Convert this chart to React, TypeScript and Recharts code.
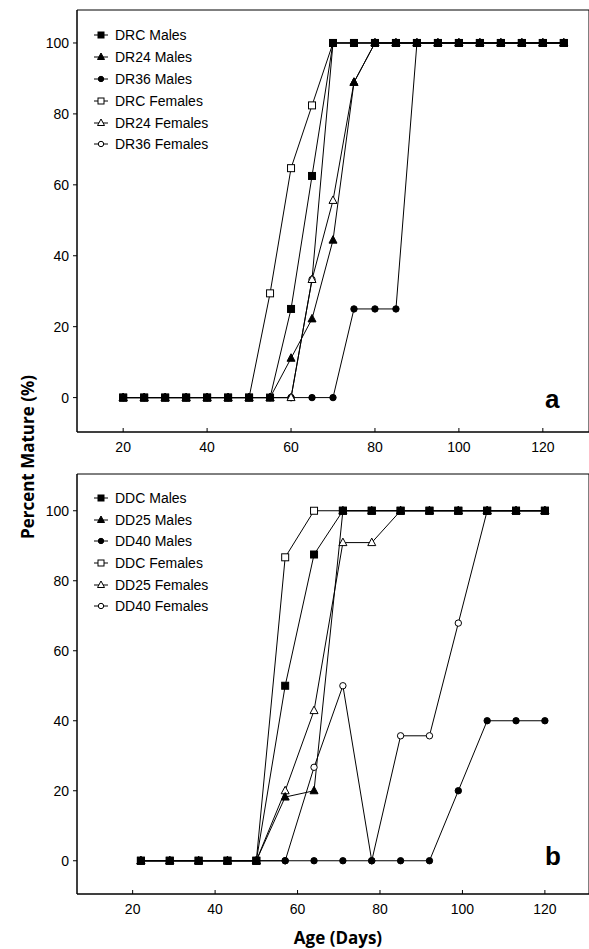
import React from 'react';
import { LineChart, Line, XAxis, YAxis, ReferenceArea, Legend } from 'recharts';

// panel a: days 20..125, step 5
const daysA = [20, 25, 30, 35, 40, 45, 50, 55, 60, 65, 70, 75, 80, 85, 90, 95, 100, 105, 110, 115, 120, 125];
const drcMales = [0, 0, 0, 0, 0, 0, 0, 0, 25, 62.5, 100, 100, 100, 100, 100, 100, 100, 100, 100, 100, 100, 100];
const dr24Males = [0, 0, 0, 0, 0, 0, 0, 0, 11.1, 22.2, 44.4, 88.9, 100, 100, 100, 100, 100, 100, 100, 100, 100, 100];
const dr36Males = [0, 0, 0, 0, 0, 0, 0, 0, 0, 0, 0, 25, 25, 25, 100, 100, 100, 100, 100, 100, 100, 100];
const drcFemales = [0, 0, 0, 0, 0, 0, 0, 29.4, 64.7, 82.4, 100, 100, 100, 100, 100, 100, 100, 100, 100, 100, 100, 100];
const dr24Females = [0, 0, 0, 0, 0, 0, 0, 0, 0, 33.3, 55.6, 88.9, 100, 100, 100, 100, 100, 100, 100, 100, 100, 100];
const dr36Females = [0, 0, 0, 0, 0, 0, 0, 0, 0, 33.3, 100, 100, 100, 100, 100, 100, 100, 100, 100, 100, 100, 100];

// panel b: days 22..120, step 7
const daysB = [22, 29, 36, 43, 50, 57, 64, 71, 78, 85, 92, 99, 106, 113, 120];
const ddcMales = [0, 0, 0, 0, 0, 50, 87.5, 100, 100, 100, 100, 100, 100, 100, 100];
const dd25Males = [0, 0, 0, 0, 0, 18.2, 20, 100, 100, 100, 100, 100, 100, 100, 100];
const dd40Males = [0, 0, 0, 0, 0, 0, 0, 0, 0, 0, 0, 20, 40, 40, 40];
const ddcFemales = [0, 0, 0, 0, 0, 86.7, 100, 100, 100, 100, 100, 100, 100, 100, 100];
const dd25Females = [0, 0, 0, 0, 0, 20, 42.9, 90.9, 90.9, 100, 100, 100, 100, 100, 100];
const dd40Females = [0, 0, 0, 0, 0, 0, 26.7, 50, 0, 35.7, 35.7, 67.9, 100, 100, 100];

const xTicks = [20, 40, 60, 80, 100, 120];
const yTicks = [0, 20, 40, 60, 80, 100];

const FONT = '"Liberation Sans", Arial, sans-serif';

type Shape = 'square' | 'triangle' | 'circle';
type Series = { key: string; name: string; values: number[]; shape: Shape; filled: boolean };

const panelA: Series[] = [
  { key: 'drcM', name: 'DRC Males', values: drcMales, shape: 'square', filled: true },
  { key: 'dr24M', name: 'DR24 Males', values: dr24Males, shape: 'triangle', filled: true },
  { key: 'dr36M', name: 'DR36 Males', values: dr36Males, shape: 'circle', filled: true },
  { key: 'drcF', name: 'DRC Females', values: drcFemales, shape: 'square', filled: false },
  { key: 'dr24F', name: 'DR24 Females', values: dr24Females, shape: 'triangle', filled: false },
  { key: 'dr36F', name: 'DR36 Females', values: dr36Females, shape: 'circle', filled: false },
];
// draw order so the right markers end up on top
const orderA = ['drcF', 'dr36F', 'dr36M', 'dr24F', 'dr24M', 'drcM'];

const panelB: Series[] = [
  { key: 'ddcM', name: 'DDC Males', values: ddcMales, shape: 'square', filled: true },
  { key: 'dd25M', name: 'DD25 Males', values: dd25Males, shape: 'triangle', filled: true },
  { key: 'dd40M', name: 'DD40 Males', values: dd40Males, shape: 'circle', filled: true },
  { key: 'ddcF', name: 'DDC Females', values: ddcFemales, shape: 'square', filled: false },
  { key: 'dd25F', name: 'DD25 Females', values: dd25Females, shape: 'triangle', filled: false },
  { key: 'dd40F', name: 'DD40 Females', values: dd40Females, shape: 'circle', filled: false },
];
const orderB = ['ddcF', 'dd40F', 'dd40M', 'dd25F', 'dd25M', 'ddcM'];

const Marker = ({ cx, cy, shape, filled, size = 7 }: any) => {
  if (cx == null || cy == null) return <g />;
  const fill = filled ? '#000' : '#fff';
  const h = size / 2;
  if (shape === 'square') {
    return <rect x={cx - h} y={cy - h} width={size} height={size} fill={fill} stroke="#000" strokeWidth={1} />;
  }
  if (shape === 'triangle') {
    const pts = `${cx},${cy - h - 1} ${cx - h - 0.5},${cy + h - 0.5} ${cx + h + 0.5},${cy + h - 0.5}`;
    return <polygon points={pts} fill={fill} stroke="#000" strokeWidth={1} />;
  }
  return <circle cx={cx} cy={cy} r={h - 0.3} fill={fill} stroke="#000" strokeWidth={1} />;
};

const legendContent = (series: Series[], rowH: number) => () => (
  <div style={{ fontFamily: FONT, fontSize: 14, color: '#000' }}>
    {series.map((s) => (
      <div key={s.key} style={{ display: 'flex', alignItems: 'center', height: rowH }}>
        <svg width={14} height={12} style={{ display: 'block' }}>
          <line x1={0} x2={14} y1={6} y2={6} stroke="#000" strokeWidth={1} />
          <Marker cx={7} cy={6} shape={s.shape} filled={s.filled} size={6} />
        </svg>
        <span style={{ marginLeft: 7, whiteSpace: 'nowrap' }}>{s.name}</span>
      </div>
    ))}
  </div>
);

type PanelProps = {
  days: number[];
  series: Series[];
  order: string[];
  xDomain: [number, number];
  yDomain: [number, number];
  marginTop: number;
  xAxisHeight: number;
  legendTop: number;
  rowH: number;
};

const Panel = ({ days, series, order, xDomain, yDomain, marginTop, xAxisHeight, legendTop, rowH }: PanelProps) => {
  const rows = days.map((d, i) => {
    const r: any = { day: d };
    series.forEach((s) => { r[s.key] = s.values[i]; });
    return r;
  });
  const drawn = order.map((k) => series.find((s) => s.key === k)!);
  const tickStyle = { fill: '#000', fontSize: 14, fontFamily: FONT };

  return (
    <LineChart width={589} height={460} data={rows} margin={{ top: marginTop, right: 0, bottom: 0, left: 0 }}>
      <XAxis
        type="number"
        dataKey="day"
        domain={xDomain}
        ticks={xTicks}
        allowDataOverflow
        height={xAxisHeight}
        tick={tickStyle}
        tickSize={-4}
        tickMargin={14}
        axisLine={{ stroke: '#000' }}
        tickLine={{ stroke: '#000' }}
      />
      <YAxis
        type="number"
        domain={yDomain}
        ticks={yTicks}
        allowDataOverflow
        width={77}
        tick={tickStyle}
        tickSize={4}
        tickMargin={4}
        axisLine={{ stroke: '#000' }}
        tickLine={{ stroke: '#000' }}
      />
      <ReferenceArea x1={xDomain[0]} x2={xDomain[1]} y1={yDomain[0]} y2={yDomain[1]} fill="none" stroke="#000" strokeWidth={1} />
      <Legend
        layout="vertical"
        align="center"
        verticalAlign="middle"
        content={legendContent(series, rowH)}
        wrapperStyle={{ left: 94, top: legendTop, width: 'auto' }}
      />
      {drawn.map((s) => (
        <Line
          key={s.key}
          type="linear"
          dataKey={s.key}
          name={s.name}
          stroke="#000"
          strokeWidth={1}
          isAnimationActive={false}
          activeDot={false}
          legendType="none"
          dot={(p: any) => <Marker key={`${s.key}-${p.index}`} cx={p.cx} cy={p.cy} shape={s.shape} filled={s.filled} />}
        />
      ))}
    </LineChart>
  );
};

export default function App() {
  return (
    <div style={{ position: 'absolute', left: 0, top: 0, width: 589, height: 949, background: '#fff' }}>
      <div style={{ position: 'absolute', left: 0, top: 0 }}>
        <Panel
          days={daysA}
          series={panelA}
          order={orderA}
          xDomain={[9, 131]}
          yDomain={[-9.7, 109.3]}
          marginTop={10}
          xAxisHeight={28}
          legendTop={24}
          rowH={21.9}
        />
      </div>
      <div style={{ position: 'absolute', left: 0, top: 460 }}>
        <Panel
          days={daysB}
          series={panelB}
          order={orderB}
          xDomain={[6.5, 130.7]}
          yDomain={[-9.5, 110.5]}
          marginTop={14}
          xAxisHeight={26}
          legendTop={27.5}
          rowH={21.6}
        />
      </div>
      <div style={{ position: 'absolute', left: 545, top: 386, fontFamily: FONT, fontWeight: 'bold', fontSize: 26, lineHeight: '26px' }}>a</div>
      <div style={{ position: 'absolute', left: 545, top: 843, fontFamily: FONT, fontWeight: 'bold', fontSize: 26, lineHeight: '26px' }}>b</div>
      <div
        style={{
          position: 'absolute', left: 28 - 110, top: 457 - 12, width: 220, height: 24, lineHeight: '24px',
          textAlign: 'center', transform: 'rotate(-90deg)', fontFamily: '"Open Sans", sans-serif',
          fontWeight: 'bold', fontSize: 17,
        }}
      >
        Percent Mature (%)
      </div>
      <div
        style={{
          position: 'absolute', left: 338 - 110, top: 938 - 12, width: 220, height: 24, lineHeight: '24px',
          textAlign: 'center', fontFamily: '"Open Sans", sans-serif', fontWeight: 'bold', fontSize: 17,
        }}
      >
        Age (Days)
      </div>
    </div>
  );
}
